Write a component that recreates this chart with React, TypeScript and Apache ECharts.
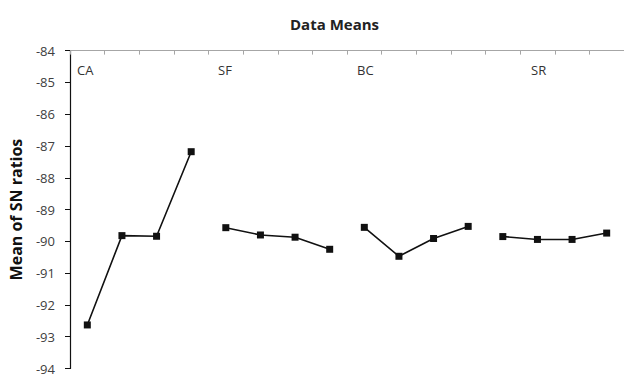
import React, { useEffect, useRef } from "react";
import * as echarts from "echarts";

const categories: string[] = [
  "CA1", "CA2", "CA3", "CA4",
  "SF1", "SF2", "SF3", "SF4",
  "BC1", "BC2", "BC3", "BC4",
  "SR1", "SR2", "SR3", "SR4",
];
const groupNames: string[] = ["CA", "SF", "BC", "SR"];
const caValues: number[] = [-92.63, -89.82, -89.84, -87.18];
const sfValues: number[] = [-89.57, -89.8, -89.87, -90.25];
const bcValues: number[] = [-89.56, -90.47, -89.91, -89.53];
const srValues: number[] = [-89.85, -89.94, -89.94, -89.74];
const yTicks: number[] = [-94, -93, -92, -91, -90, -89, -88, -87, -86, -85, -84];

const FONT = "'Open Sans', sans-serif";

export default function App() {
  const ref = useRef<HTMLDivElement>(null);
  useEffect(() => {
    if (!ref.current) return;
    const chart = echarts.init(ref.current, undefined, { renderer: "svg" });
    const groups = [caValues, sfValues, bcValues, srValues];
    const series = groups.map((vals, gi) => {
      const data: (number | string)[] = categories.map(() => "-");
      vals.forEach((v, i) => {
        data[gi * 4 + i] = v;
      });
      return {
        name: groupNames[gi],
        type: "line",
        data,
        symbol: "rect",
        symbolSize: 7,
        showAllSymbol: true,
        lineStyle: { color: "#111", width: 1.6 },
        itemStyle: { color: "#111" },
        connectNulls: false,
      };
    });
    const labelX = [77, 218, 357, 531];
    chart.setOption({
      animation: false,
      title: {
        text: "Data Means",
        left: 285,
        top: 11,
        textStyle: { fontFamily: FONT, fontWeight: "bold", fontSize: 15, color: "#222" },
      },
      grid: { left: 69, top: 50.6, width: 557.5, bottom: 5.4 },
      xAxis: {
        type: "category",
        data: categories,
        position: "top",
        boundaryGap: true,
        axisLine: { show: true, lineStyle: { color: "#a6a6a6", width: 1 } },
        axisTick: { show: true, inside: true, length: 4, lineStyle: { color: "#a6a6a6" } },
        axisLabel: { show: false },
        splitLine: { show: false },
      },
      yAxis: {
        type: "value",
        min: yTicks[0],
        max: yTicks[yTicks.length - 1],
        interval: 1,
        name: "Mean of SN ratios",
        nameLocation: "middle",
        nameGap: 46,
        nameTextStyle: { fontFamily: FONT, fontWeight: "bold", fontSize: 16, color: "#111" },
        axisLine: { show: true, lineStyle: { color: "#111", width: 1.2 } },
        axisTick: { show: true, inside: false, length: 5, lineStyle: { color: "#111" } },
        axisLabel: { fontFamily: FONT, fontSize: 13, color: "#404040", margin: 15 },
        splitLine: { show: false },
      },
      graphic: groupNames.map((g, i) => ({
        type: "text",
        left: labelX[i],
        top: 63,
        style: { text: g, fontFamily: FONT, fontSize: 13, fill: "#333" },
      })),
      series,
    });
    return () => chart.dispose();
  }, []);
  return <div ref={ref} style={{ width: 624, height: 375, position: "absolute", left: 0, top: 0 }} />;
}
